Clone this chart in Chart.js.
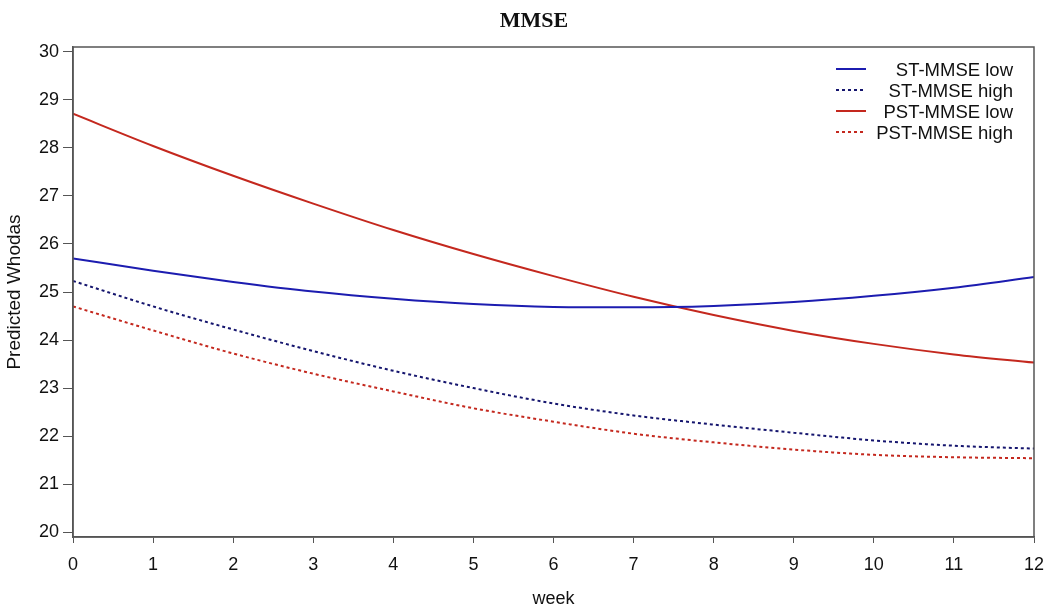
<!DOCTYPE html>
<html>
<head>
<meta charset="utf-8">
<script src="https://cdn.jsdelivr.net/npm/chart.js@4"></script>
<style>
  html, body { margin: 0; padding: 0; background: #fff; }
  #wrap { width: 1050px; height: 614px; position: relative; }
</style>
</head>
<body>
<div id="wrap"><canvas id="mmseChart"></canvas></div>
<script>
const weeks = [0, 1, 2, 3, 4, 5, 6, 7, 8, 9, 10, 11, 12];
const yTicks = [20, 21, 22, 23, 24, 25, 26, 27, 28, 29, 30];

const stLow = [25.70, 25.44, 25.21, 25.01, 24.86, 24.75, 24.69, 24.68, 24.71, 24.79, 24.92, 25.09, 25.31];
const stHigh = [25.23, 24.70, 24.22, 23.77, 23.36, 23.00, 22.68, 22.43, 22.24, 22.07, 21.91, 21.80, 21.74];
const pstLow = [28.71, 28.04, 27.42, 26.84, 26.29, 25.79, 25.33, 24.90, 24.52, 24.19, 23.92, 23.70, 23.53];
const pstHigh = [24.70, 24.20, 23.72, 23.30, 22.93, 22.58, 22.30, 22.05, 21.87, 21.72, 21.61, 21.56, 21.54];

const toPoints = (vals) => weeks.map((w, i) => ({ x: w, y: vals[i] }));

// box round the plot area + the title (sits a bit left of plot centre)
const frame = {
  id: "frame",
  afterDraw(chart) {
    const { ctx, chartArea: a } = chart;
    ctx.save();
    ctx.strokeStyle = "#555";
    ctx.lineWidth = 1.5;
    ctx.strokeRect(a.left, a.top, a.right - a.left, a.bottom - a.top);
    ctx.fillStyle = "#111";
    ctx.font = "bold 22px 'Liberation Serif', 'Times New Roman', serif";
    ctx.textAlign = "center";
    ctx.textBaseline = "middle";
    ctx.fillText("MMSE", 534, 21);
    ctx.restore();
  },
};

// legend with right aligned labels, inside the plot
const insideLegend = {
  id: "insideLegend",
  afterDraw(chart) {
    const { ctx } = chart;
    ctx.save();
    ctx.font = "18.5px 'Liberation Sans', Arial, sans-serif";
    ctx.textAlign = "right";
    ctx.textBaseline = "middle";
    chart.data.datasets.forEach((ds, i) => {
      const y = 69 + i * 21;
      ctx.beginPath();
      ctx.strokeStyle = ds.borderColor;
      ctx.lineWidth = 2;
      ctx.setLineDash(ds.borderDash || []);
      ctx.moveTo(836, y);
      ctx.lineTo(866, y);
      ctx.stroke();
      ctx.setLineDash([]);
      ctx.fillStyle = "#111";
      ctx.fillText(ds.label, 1013, y + 2);
    });
    ctx.restore();
  },
};

const ctx = document.getElementById("mmseChart");

const mmseChart = new Chart(ctx, {
  type: "line",
  data: {
    datasets: [
      {
        label: "ST-MMSE low",
        data: toPoints(stLow),
        borderColor: "#1c1cb0",
        borderWidth: 2,
      },
      {
        label: "ST-MMSE high",
        data: toPoints(stHigh),
        borderColor: "#15156e",
        borderWidth: 2,
        borderDash: [3, 3],
      },
      {
        label: "PST-MMSE low",
        data: toPoints(pstLow),
        borderColor: "#c4281e",
        borderWidth: 2,
      },
      {
        label: "PST-MMSE high",
        data: toPoints(pstHigh),
        borderColor: "#c4281e",
        borderWidth: 2,
        borderDash: [3, 3],
      },
    ],
  },
  options: {
    responsive: true,
    maintainAspectRatio: false,
    animation: false,
    elements: {
      point: { radius: 0 },
      line: { cubicInterpolationMode: "monotone" },
    },
    layout: {
      padding: { left: 3, right: 0, top: 47, bottom: 4 },
    },
    scales: {
      x: {
        type: "linear",
        min: 0,
        max: 12,
        afterFit: (s) => {
          s.height = 73;
          s.paddingRight = 16;
          s.paddingLeft = 0;
        },
        ticks: {
          stepSize: 1,
          color: "#111",
          padding: 11,
          font: { family: "'Liberation Sans', Arial", size: 18 },
        },
        grid: {
          drawOnChartArea: false,
          drawTicks: true,
          tickLength: 6,
          color: "#555",
        },
        border: { display: true, color: "#555", width: 1.5 },
        title: {
          display: true,
          text: "week",
          color: "#111",
          font: { family: "'Liberation Sans', Arial", size: 18 },
          padding: { top: 4, bottom: 0 },
        },
      },
      y: {
        min: 19.9,
        max: 30.1,
        afterBuildTicks: (scale) => {
          scale.ticks = yTicks.map((v) => ({ value: v }));
        },
        afterFit: (s) => {
          s.width = 70;
          s.paddingTop = 0;
          s.paddingBottom = 0;
        },
        ticks: {
          color: "#111",
          padding: 4,
          font: { family: "'Liberation Sans', Arial", size: 18 },
        },
        grid: {
          drawOnChartArea: false,
          drawTicks: true,
          tickLength: 10,
          color: "#555",
        },
        border: { display: true, color: "#555", width: 1.5 },
        title: {
          display: true,
          text: "Predicted Whodas",
          color: "#111",
          font: { family: "'Liberation Sans', Arial", size: 19 },
          padding: { top: 0, bottom: 9 },
        },
      },
    },
    plugins: {
      legend: { display: false },
      tooltip: { enabled: false },
      title: { display: false },
    },
  },
  plugins: [frame, insideLegend],
});
</script>
</body>
</html>
